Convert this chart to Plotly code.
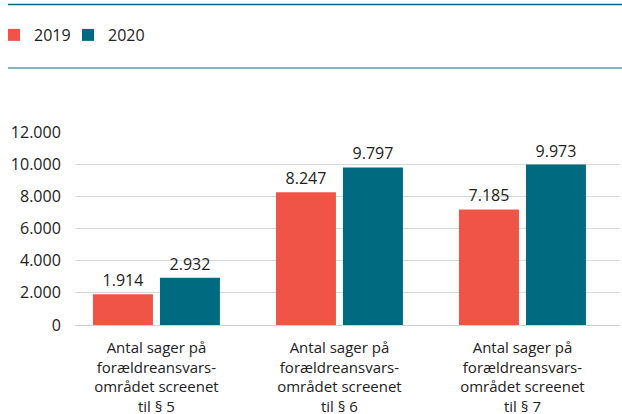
import plotly.graph_objects as go

categories = [
    "Antal sager på<br>forældreansvars-<br>området screenet<br>til § 5",
    "Antal sager på<br>forældreansvars-<br>området screenet<br>til § 6",
    "Antal sager på<br>forældreansvars-<br>området screenet<br>til § 7",
]
series_names = ["2019", "2020"]
values_2019 = [1914, 8247, 7185]
values_2020 = [2932, 9797, 9973]
tick_vals = [0, 2000, 4000, 6000, 8000, 10000, 12000]
tick_text = ["0", "2.000", "4.000", "6.000", "8.000", "10.000", "12.000"]

colors = ["#F05446", "#006A80"]
FONT = "Open Sans"
TXT = "#222222"
FS = 16

def fmt(v):
    return f"{v:,}".replace(",", ".")

fig = go.Figure()
for i, (name, vals, col) in enumerate(zip(series_names, [values_2019, values_2020], colors)):
    fig.add_trace(go.Bar(
        name=name, x=categories, y=vals, marker=dict(color=col, line=dict(width=0)),
        text=[fmt(v) for v in vals], textposition="outside", cliponaxis=False,
        textfont=dict(family=FONT, size=FS, color=TXT),
        legend="legend" if i == 0 else "legend2",
    ))

W, H = 622, 414
L, R, T, B = 75, 2, 132, 89
pw = W - L - R
ph = H - T - B

def py(y):
    return (H - B - y) / ph

def px(x):
    return (x - L) / pw

leg_common = dict(orientation="h", xref="paper", yref="container",
                  yanchor="middle", xanchor="left",
                  font=dict(family=FONT, size=FS, color=TXT),
                  bgcolor="rgba(0,0,0,0)")

fig.update_layout(
    width=W, height=H,
    margin=dict(l=L, r=R, t=T, b=B, autoexpand=False),
    paper_bgcolor="white", plot_bgcolor="white",
    font=dict(family=FONT, size=FS, color=TXT),
    barmode="group", bargap=0.268, bargroupgap=0.1045,
    showlegend=True,
    legend=dict(x=px(8 - 14), y=1 - 35 / H, **leg_common),
    legend2=dict(x=px(82 - 14), y=1 - 35 / H, **leg_common),
    xaxis=dict(range=[-0.445, 2.533], showgrid=False, showline=False, automargin=False,
               ticks="outside", ticklen=9, tickcolor="rgba(0,0,0,0)",
               tickfont=dict(family=FONT, size=15, color=TXT)),
    yaxis=dict(range=[0, 12000], tickvals=tick_vals, ticktext=tick_text, automargin=False,
               showgrid=True, gridcolor="#D9D9D9", gridwidth=1,
               zeroline=True, zerolinecolor="#D0D0D0", zerolinewidth=1,
               showline=False, ticks="outside", ticklen=10, tickcolor="rgba(0,0,0,0)",
               tickfont=dict(family=FONT, size=FS, color=TXT)),
    shapes=[
        dict(type="line", xref="paper", yref="paper", x0=px(8), x1=px(622),
             y0=py(4.5), y1=py(4.5), line=dict(color="#006A80", width=1.5)),
        dict(type="line", xref="paper", yref="paper", x0=px(8), x1=px(622),
             y0=py(68), y1=py(68), line=dict(color="#80B4BF", width=2)),
    ],
)

fig.write_html("out.html", config={"displayModeBar": False},
               post_script="document.body.style.margin='0';")
